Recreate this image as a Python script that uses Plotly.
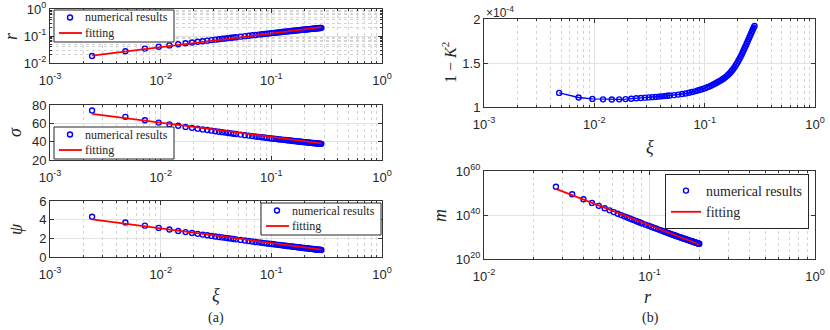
import plotly.graph_objects as go

# ---- data ----
xi = [0.0024, 0.0048, 0.0072, 0.0096, 0.012, 0.0144, 0.0168, 0.0192, 0.0216, 0.024,
      0.0264, 0.0288, 0.0312, 0.0336, 0.036, 0.0384, 0.0408, 0.0432, 0.0456, 0.048,
      0.0528, 0.0576, 0.0624, 0.0672, 0.072, 0.0768, 0.0816, 0.0864, 0.0912, 0.096,
      0.1008, 0.1056, 0.1104, 0.1152, 0.12, 0.1248, 0.1296, 0.1344, 0.1392, 0.144,
      0.1488, 0.1536, 0.1584, 0.1632, 0.168, 0.1728, 0.1776, 0.1824, 0.1872, 0.192,
      0.1968, 0.2016, 0.2064, 0.2112, 0.216, 0.2208, 0.2256, 0.2304, 0.2352, 0.24,
      0.2448, 0.2496, 0.2544, 0.2592, 0.264, 0.2688, 0.2736, 0.2784, 0.2832]

r_num = [0.0182, 0.0272, 0.0341, 0.0399, 0.0449, 0.0494, 0.0536, 0.0574, 0.0609, 0.0643,
         0.0674, 0.0705, 0.0733, 0.0760, 0.0786, 0.0812, 0.0836, 0.0859, 0.0883, 0.0904,
         0.0946, 0.0986, 0.1024, 0.1060, 0.1095, 0.1128, 0.1160, 0.1191, 0.1222, 0.1250,
         0.1278, 0.1305, 0.1332, 0.1357, 0.1382, 0.1406, 0.1429, 0.1453, 0.1475, 0.1498,
         0.1520, 0.1541, 0.1562, 0.1583, 0.1603, 0.1622, 0.1642, 0.1661, 0.1680, 0.1698,
         0.1716, 0.1733, 0.1750, 0.1767, 0.1785, 0.1802, 0.1818, 0.1834, 0.1850, 0.1866,
         0.1882, 0.1897, 0.1912, 0.1927, 0.1942, 0.1956, 0.1971, 0.1985, 0.2000]

sigma_num = [74.0, 67.1, 63.3, 60.8, 58.9, 57.4, 56.1, 55.1, 54.2, 53.4,
             52.7, 52.0, 51.4, 50.9, 50.4, 49.9, 49.5, 49.1, 48.7, 48.4,
             47.7, 47.1, 46.6, 46.1, 45.7, 45.2, 44.9, 44.5, 44.1, 43.8,
             43.5, 43.2, 43.0, 42.7, 42.5, 42.2, 42.0, 41.8, 41.6, 41.4,
             41.2, 41.0, 40.8, 40.6, 40.45, 40.3, 40.15, 40.0, 39.85, 39.7,
             39.55, 39.4, 39.3, 39.2, 39.05, 38.9, 38.8, 38.7, 38.6, 38.5,
             38.4, 38.3, 38.2, 38.1, 38.0, 37.9, 37.8, 37.7, 37.6]

psi_num = [4.32, 3.70, 3.36, 3.12, 2.94, 2.79, 2.67, 2.57, 2.48, 2.40,
           2.33, 2.26, 2.20, 2.15, 2.10, 2.05, 2.01, 1.97, 1.93, 1.89,
           1.83, 1.77, 1.71, 1.66, 1.61, 1.57, 1.53, 1.49, 1.45, 1.42,
           1.39, 1.36, 1.33, 1.30, 1.28, 1.25, 1.23, 1.20, 1.18, 1.16,
           1.14, 1.12, 1.10, 1.08, 1.065, 1.05, 1.03, 1.01, 0.995, 0.98,
           0.965, 0.95, 0.94, 0.93, 0.915, 0.90, 0.885, 0.87, 0.86, 0.85,
           0.835, 0.82, 0.81, 0.80, 0.79, 0.78, 0.77, 0.76, 0.75]

# 1 - K^2, starts at the second xi value
xi_K = xi[1:]
one_minus_K2 = [1.160e-4, 1.108e-4, 1.092e-4, 1.087e-4, 1.086e-4, 1.087e-4, 1.090e-4, 1.094e-4, 1.099e-4,
                1.103e-4, 1.106e-4, 1.109e-4, 1.112e-4, 1.115e-4, 1.118e-4, 1.121e-4, 1.124e-4, 1.127e-4, 1.130e-4,
                1.135e-4, 1.141e-4, 1.147e-4, 1.154e-4, 1.162e-4, 1.170e-4, 1.178e-4, 1.187e-4, 1.196e-4, 1.205e-4,
                1.214e-4, 1.224e-4, 1.234e-4, 1.245e-4, 1.256e-4, 1.267e-4, 1.278e-4, 1.289e-4, 1.300e-4, 1.312e-4,
                1.324e-4, 1.337e-4, 1.351e-4, 1.366e-4, 1.382e-4, 1.399e-4, 1.417e-4, 1.436e-4, 1.456e-4, 1.477e-4,
                1.499e-4, 1.522e-4, 1.546e-4, 1.570e-4, 1.595e-4, 1.620e-4, 1.645e-4, 1.670e-4, 1.695e-4, 1.720e-4,
                1.745e-4, 1.769e-4, 1.793e-4, 1.816e-4, 1.839e-4, 1.861e-4, 1.883e-4, 1.904e-4, 1.922e-4]

# m against r, same r values from the second point on
r_m = r_num[1:]
m_num = [6.5e52, 2.8e49, 1.55e47, 3.16e45, 1.45e44, 1.15e43, 1.32e42, 2.04e41, 3.98e40,
         9.12e39, 2.45e39, 7.41e38, 2.51e38, 9.12e37, 3.63e37, 1.51e37, 6.76e36, 3.09e36, 1.55e36,
         4.17e35, 1.29e35, 4.37e34, 1.66e34, 6.76e33, 2.95e33, 1.35e33, 6.46e32, 3.24e32, 1.74e32,
         9.55e31, 5.37e31, 3.09e31, 1.86e31, 1.15e31, 7.08e30, 4.68e30, 2.95e30, 2.00e30, 1.35e30,
         9.2e29, 6.31e29, 4.4e29, 3.09e29, 2.26e29, 1.66e29, 1.22e29, 8.91e28, 6.76e28, 5.13e28,
         3.94e28, 3.02e28, 2.34e28, 1.82e28, 1.41e28, 1.10e28, 8.81e27, 7.08e27, 5.69e27, 4.57e27,
         3.72e27, 3.02e27, 2.45e27, 2.00e27, 1.66e27, 1.38e27, 1.15e27, 9.55e26, 7.94e26]

# fitted lines (end points)
xi_fit = [0.0024, 0.2832]
r_fit = [0.0186, 0.212]
sigma_fit = [70.2, 38.2]
psi_fit = [4.03, 0.80]
r_m_fit = [0.0272, 0.2]
m_fit = [7.9e51, 4.0e26]

legend_names = ['numerical results', 'fitting']

W, H = 830, 330
BLUE = '#0000ff'
RED = '#ff0000'
AX = '#333333'
SANS = 'Liberation Sans'
SERIF = 'Liberation Serif'


def px_x(x):
    return x / W


def px_y(y):
    return 1 - y / H


def log_ticks(lo, hi):
    vals = [10.0 ** e for e in range(lo, hi + 1)]
    text = [f'10<sup>{e}</sup>' for e in range(lo, hi + 1)]
    return vals, text


def minor_log(lo, hi):
    return [k * 10.0 ** e for e in range(lo, hi) for k in range(2, 10)]


def base_axis(**kw):
    d = dict(showline=True, linecolor=AX, linewidth=1, mirror='ticks',
             ticks='inside', ticklen=4, tickcolor=AX, tickwidth=1, automargin=False,
             showgrid=True, gridcolor='#e2e2e2', gridwidth=1, zeroline=False,
             tickfont=dict(family=SANS, size=13, color='#262626'))
    d.update(kw)
    return d


def log_axis(lo, hi, domain, anchor, minor=True, **kw):
    vals, text = log_ticks(lo, hi)
    d = base_axis(type='log', range=[lo, hi], domain=domain, anchor=anchor,
                  tickmode='array', tickvals=vals, ticktext=text, **kw)
    if minor:
        d['minor'] = dict(tickmode='array', tickvals=minor_log(lo, hi), ticks='inside',
                          ticklen=2, tickcolor=AX, showgrid=True,
                          gridcolor='#d4d4d4', griddash='dot', gridwidth=1)
    return d


def x_axis(lo, hi, domain, anchor):
    return log_axis(lo, hi, domain, anchor, ticklabelstandoff=5)


def lin_axis(rng, tickvals, domain, anchor, ticktext=None):
    d = base_axis(range=rng, domain=domain, anchor=anchor, tickmode='array', tickvals=tickvals)
    if ticktext is not None:
        d['ticktext'] = ticktext
    return d


fig = go.Figure()

marker = dict(symbol='circle-open', size=5, color=BLUE, line=dict(width=1.4, color=BLUE))

# (x axis, y axis, data, fit, uses plotly's own legend)
panels = [
    ('x', 'y', xi, r_num, xi_fit, r_fit, False),
    ('x2', 'y2', xi, sigma_num, xi_fit, sigma_fit, False),
    ('x3', 'y3', xi, psi_num, xi_fit, psi_fit, False),
    ('x5', 'y5', r_m, m_num, r_m_fit, m_fit, True),
]
for xa, ya, xs, ys, xf, yf, own_legend in panels:
    fig.add_trace(go.Scatter(x=xs, y=ys, mode='markers', marker=marker, name=legend_names[0],
                             xaxis=xa, yaxis=ya, showlegend=own_legend))
    fig.add_trace(go.Scatter(x=xf, y=yf, mode='lines', line=dict(color=RED, width=1.8),
                             name=legend_names[1], xaxis=xa, yaxis=ya, showlegend=own_legend))

fig.add_trace(go.Scatter(x=xi_K, y=one_minus_K2, mode='lines+markers',
                         line=dict(color=BLUE, width=1.4), marker=marker,
                         showlegend=False, xaxis='x4', yaxis='y4'))

left_x = [px_x(50), px_x(382)]
right_x = [px_x(484), px_x(815)]

layout = dict(
    width=W, height=H, margin=dict(l=0, r=0, t=0, b=0, autoexpand=False),
    paper_bgcolor='white', plot_bgcolor='white', showlegend=True,
    xaxis=x_axis(-3, 0, left_x, 'y'),
    yaxis=log_axis(-2, 0, [px_y(63), px_y(9)], 'x'),
    xaxis2=x_axis(-3, 0, left_x, 'y2'),
    yaxis2=lin_axis([20, 80], [20, 40, 60, 80], [px_y(160), px_y(105)], 'x2'),
    xaxis3=x_axis(-3, 0, left_x, 'y3'),
    yaxis3=lin_axis([0, 6], [0, 2, 4, 6], [px_y(257), px_y(201)], 'x3'),
    xaxis4=x_axis(-3, 0, right_x, 'y4'),
    yaxis4=lin_axis([1e-4, 2e-4], [1e-4, 1.5e-4, 2e-4], [px_y(107), px_y(19)], 'x4',
                    ticktext=['1', '1.5', '2']),
    xaxis5=x_axis(-2, 0, right_x, 'y5'),
    yaxis5=log_axis(20, 60, [px_y(259), px_y(171)], 'x5', minor=False),
    legend=dict(x=px_x(665), y=px_y(174), xanchor='left', yanchor='top', bgcolor='white',
                bordercolor='#262626', borderwidth=1, itemwidth=30, tracegroupgap=0,
                font=dict(family=SERIF, size=14, color='#262626')),
)
layout['yaxis5']['tickvals'] = [1e20, 1e40, 1e60]
layout['yaxis5']['ticktext'] = ['10<sup>20</sup>', '10<sup>40</sup>', '10<sup>60</sup>']

fig.update_layout(**layout)


def compact_legend(left, top):
    # the small left-hand legends are tighter than plotly's legend box allows
    fig.add_shape(type='rect', xref='paper', yref='paper', layer='above',
                  x0=px_x(left), x1=px_x(left + 120), y0=px_y(top + 32), y1=px_y(top),
                  line=dict(color='#262626', width=1), fillcolor='white')
    fig.add_shape(type='circle', xref='paper', yref='paper', layer='above',
                  x0=px_x(left + 13.5), x1=px_x(left + 18.5), y0=px_y(top + 10), y1=px_y(top + 5),
                  line=dict(color=BLUE, width=1.4))
    fig.add_shape(type='line', xref='paper', yref='paper', layer='above',
                  x0=px_x(left + 5), x1=px_x(left + 28), y0=px_y(top + 23), y1=px_y(top + 23),
                  line=dict(color=RED, width=1.8))
    for name, dy in zip(legend_names, (7.5, 23)):
        fig.add_annotation(text=name, x=px_x(left + 29), y=px_y(top + dy), xref='paper', yref='paper',
                           xanchor='left', yanchor='middle', showarrow=False,
                           font=dict(family=SERIF, size=12, color='#262626'))


compact_legend(54, 10)
compact_legend(54, 127)
compact_legend(261, 203)


def label(text, x, y, size=18, angle=0):
    fig.add_annotation(text=text, x=px_x(x), y=px_y(y), xref='paper', yref='paper',
                       xanchor='center', yanchor='middle', showarrow=False, textangle=angle,
                       font=dict(family=SERIF, size=size, color='#262626'))


label('<i>r</i>', 11, 36, angle=-90)
label('<i>σ</i>', 15, 132, angle=-90)
label('<i>ψ</i>', 16, 229, angle=-90)
label('<i>ξ</i>', 216, 295)
label('(a)', 216, 318, size=14)
label('1 − <i>K</i><sup>2</sup>', 449, 63, size=16, angle=-90)
label('<i>ξ</i>', 650, 147)
label('<i>m</i>', 440, 216, angle=-90)
label('<i>r</i>', 648, 297)
label('(b)', 650, 318, size=14)

fig.add_annotation(text='×10<sup>-4</sup>', x=px_x(484), y=px_y(12), xref='paper', yref='paper',
                   xanchor='left', yanchor='middle', showarrow=False,
                   font=dict(family=SANS, size=12, color='#262626'))

# the page's default body margin would shift the fixed-size figure
fig.write_html('out.html', config={'displayModeBar': False},
               post_script="document.body.style.margin='0';")
